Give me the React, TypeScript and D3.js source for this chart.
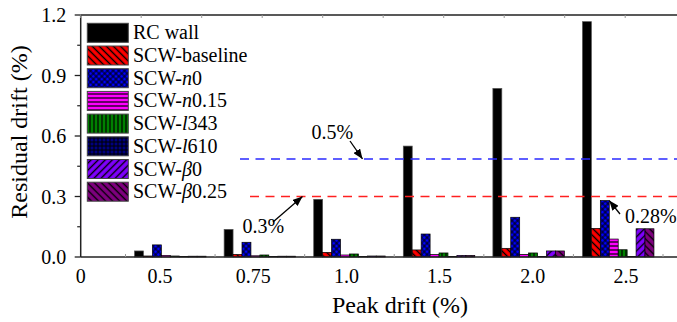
import React from "react";
import * as d3 from "d3";

// ---------- data ----------
const peakLabels = ["0", "0.5", "0.75", "1.0", "1.5", "2.0", "2.5"];
const rcWall = [0.03, 0.137, 0.286, 0.55, 0.836, 1.167];
const scwBaseline = [0.005, 0.013, 0.023, 0.035, 0.043, 0.142];
const scwN0 = [0.06, 0.073, 0.088, 0.114, 0.197, 0.28];
const scwN015 = [0.008, 0.006, 0.01, 0.012, 0.013, 0.089];
const scwL343 = [0.005, 0.01, 0.015, 0.02, 0.02, 0.036];
const scwL610 = [0.002, 0.002, 0.002, 0.003, 0.003, 0.003];
const scwB0 = [0.004, 0.004, 0.005, 0.008, 0.03, 0.14];
const scwB025 = [0.004, 0.004, 0.005, 0.008, 0.03, 0.14];
const yTicks = [0, 0.3, 0.6, 0.9, 1.2];
const limitLines = [0.486, 0.3];

type Series = {
  key: string;
  prefix: string;
  ital: string;
  suffix: string;
  values: number[];
  color: string;
  hatch: string;
};

const series: Series[] = [
  { key: "rc", prefix: "RC wall", ital: "", suffix: "", values: rcWall, color: "#000000", hatch: "solid" },
  { key: "base", prefix: "SCW-baseline", ital: "", suffix: "", values: scwBaseline, color: "#ff0000", hatch: "back" },
  { key: "n0", prefix: "SCW-", ital: "n", suffix: "0", values: scwN0, color: "#0000ff", hatch: "cross" },
  { key: "n015", prefix: "SCW-", ital: "n", suffix: "0.15", values: scwN015, color: "#ff00ff", hatch: "hor" },
  { key: "l343", prefix: "SCW-", ital: "l", suffix: "343", values: scwL343, color: "#008000", hatch: "ver" },
  { key: "l610", prefix: "SCW-", ital: "l", suffix: "610", values: scwL610, color: "#000080", hatch: "grid" },
  { key: "b0", prefix: "SCW-", ital: "β", suffix: "0", values: scwB0, color: "#8000ff", hatch: "fwd" },
  { key: "b025", prefix: "SCW-", ital: "β", suffix: "0.25", values: scwB025, color: "#800080", hatch: "back" },
];

const W = 677;
const H = 322;
const left = 80.7;
const top = 15;
const bottom = 257;
const FONT = "'Liberation Serif', 'Times New Roman', serif";

function Pattern({ s }: { s: Series }) {
  const id = "pat-" + s.key;
  const sz = 5;
  if (s.hatch === "back" || s.hatch === "fwd") {
    return (
      <pattern id={id} width={sz} height={sz} patternUnits="userSpaceOnUse"
        patternTransform={s.hatch === "back" ? "rotate(-45)" : "rotate(45)"}>
        <rect width={sz} height={sz} fill={s.color} />
        <line x1={2.5} y1={0} x2={2.5} y2={sz} stroke="#000" strokeWidth={1.4} />
      </pattern>
    );
  }
  if (s.hatch === "cross") {
    return (
      <pattern id={id} width={4} height={4} patternUnits="userSpaceOnUse" patternTransform="rotate(45)">
        <rect width={4} height={4} fill={s.color} />
        <line x1={2} y1={0} x2={2} y2={4} stroke="#000" strokeWidth={1} />
        <line x1={0} y1={2} x2={4} y2={2} stroke="#000" strokeWidth={1} />
      </pattern>
    );
  }
  if (s.hatch === "hor") {
    return (
      <pattern id={id} width={4} height={4} patternUnits="userSpaceOnUse">
        <rect width={4} height={4} fill={s.color} />
        <line x1={0} y1={2} x2={4} y2={2} stroke="#000" strokeWidth={1.2} />
      </pattern>
    );
  }
  if (s.hatch === "ver") {
    return (
      <pattern id={id} width={4} height={4} patternUnits="userSpaceOnUse">
        <rect width={4} height={4} fill={s.color} />
        <line x1={2} y1={0} x2={2} y2={4} stroke="#000" strokeWidth={1.2} />
      </pattern>
    );
  }
  if (s.hatch === "grid") {
    return (
      <pattern id={id} width={4} height={4} patternUnits="userSpaceOnUse">
        <rect width={4} height={4} fill={s.color} />
        <line x1={2} y1={0} x2={2} y2={4} stroke="#000" strokeWidth={1} />
        <line x1={0} y1={2} x2={4} y2={2} stroke="#000" strokeWidth={1} />
      </pattern>
    );
  }
  return null;
}

const fillOf = (s: Series) => (s.hatch === "solid" ? s.color : `url(#pat-${s.key})`);

export default function App() {
  const x = d3.scaleLinear().domain([0, 6.5]).range([left, 663]);
  // tick labels in the original are spaced slightly wider than the bar groups
  const xLab = d3.scaleLinear().domain([1, 6]).range([160, 626]);
  const y = d3.scaleLinear().domain([0, 1.2]).range([bottom, top]);
  const pitch = x(1) - x(0);
  const band = d3
    .scaleBand<string>()
    .domain(series.map((s) => s.key))
    .range([-pitch * 0.399, pitch * 0.399])
    .padding(0);
  const bw = band.bandwidth();

  const minorY = d3.range(0.15, 1.2, 0.3);
  const bottomTicks = d3.range(0.5, 7.5, 1);
  const topTicks = d3.range(0, 10).map((i) => left + i * 60.5);

  return (
    <svg width={W} height={H} style={{ position: "absolute", left: 0, top: 0, background: "#fff" }}
      fontFamily={FONT}>
      <defs>
        {series.map((s) => (
          <Pattern key={s.key} s={s} />
        ))}
        <marker id="arrow" viewBox="0 0 10 8" refX={10} refY={4} markerWidth={10} markerHeight={8}
          markerUnits="userSpaceOnUse" orient="auto">
          <path d="M0,0 L10,4 L0,8 Z" fill="#000" />
        </marker>
      </defs>
      <rect width={W} height={H} fill="#fff" />

      {/* bars */}
      {series.map((s) =>
        s.values.map((v, i) => {
          const cx = x(i + 1);
          const bx = cx + (band(s.key) as number);
          return (
            <rect key={s.key + i} x={bx} y={y(v)} width={bw} height={y(0) - y(v)}
              fill={fillOf(s)} stroke={s.hatch === "solid" ? "#555" : "#000"} strokeWidth={0.7} />
          );
        })
      )}

      {/* limit lines */}
      <line x1={240} x2={677} y1={y(limitLines[0])} y2={y(limitLines[0])} stroke="#2a2aff"
        strokeWidth={1.5} strokeDasharray="9,6.5" />
      <line x1={250} x2={677} y1={y(limitLines[1])} y2={y(limitLines[1])} stroke="#ff2020"
        strokeWidth={1.5} strokeDasharray="9,6.5" />

      {/* annotations */}
      <text x={311.5} y={139} fontSize={20}>0.5%</text>
      <line x1={350} y1={141} x2={362.5} y2={y(limitLines[0])} stroke="#000" strokeWidth={1.3}
        markerEnd="url(#arrow)" />
      <text x={242.5} y={232.5} fontSize={20}>0.3%</text>
      <line x1={273} y1={222} x2={302.5} y2={y(limitLines[1])} stroke="#000" strokeWidth={1.3}
        markerEnd="url(#arrow)" />
      <text x={625} y={222.5} fontSize={20}>0.28%</text>
      <line x1={620} y1={214} x2={x(6) + (band("n0") as number) + bw} y2={y(scwN0[5])} stroke="#000"
        strokeWidth={1.3} markerEnd="url(#arrow)" />

      {/* axes */}
      <line x1={left} x2={677} y1={bottom} y2={bottom} stroke="#222" strokeWidth={1.5} />
      <line x1={left} x2={677} y1={top} y2={top} stroke="#222" strokeWidth={1.5} />
      <line x1={left} x2={left} y1={top} y2={bottom} stroke="#222" strokeWidth={1.5} />
      {yTicks.map((t) => (
        <g key={"yt" + t}>
          <line x1={left - 6} x2={left} y1={y(t)} y2={y(t)} stroke="#222" strokeWidth={1.3} />
          <text x={left - 14.5} y={y(t) + 7} fontSize={20} textAnchor="end">
            {d3.format(".1f")(t)}
          </text>
        </g>
      ))}
      {minorY.map((t) => (
        <line key={"ym" + t} x1={left - 3.5} x2={left} y1={y(t)} y2={y(t)} stroke="#222" strokeWidth={1.2} />
      ))}
      {bottomTicks.map((t) => (
        <line key={"bt" + t} x1={x(t)} x2={x(t)} y1={bottom} y2={bottom - 3} stroke="#999" strokeWidth={1} />
      ))}
      {topTicks.map((t, i) => (
        <line key={"tt" + i} x1={t} x2={t} y1={top} y2={top + 3} stroke="#999" strokeWidth={1} />
      ))}
      {peakLabels.map((lab, i) => (
        <text key={"xl" + i} x={i === 0 ? x(0) : xLab(i)} y={283} fontSize={20} textAnchor="middle">
          {lab}
        </text>
      ))}
      <text x={400} y={313} fontSize={24} textAnchor="middle">Peak drift (%)</text>
      <text transform={`translate(27,${(top + bottom) / 2 - 4}) rotate(-90)`} fontSize={24} textAnchor="middle">
        Residual drift (%)
      </text>

      {/* legend */}
      {series.map((s, i) => {
        const ty = 23.3 + i * 22.7;
        return (
          <g key={"lg" + s.key}>
            <rect x={87.3} y={ty} width={41} height={19} fill={fillOf(s)} stroke="#444" strokeWidth={1} />
            <text x={133} y={ty + 16} fontSize={20}>
              {s.prefix}
              {s.ital ? <tspan fontStyle="italic">{s.ital}</tspan> : null}
              {s.suffix}
            </text>
          </g>
        );
      })}
    </svg>
  );
}
